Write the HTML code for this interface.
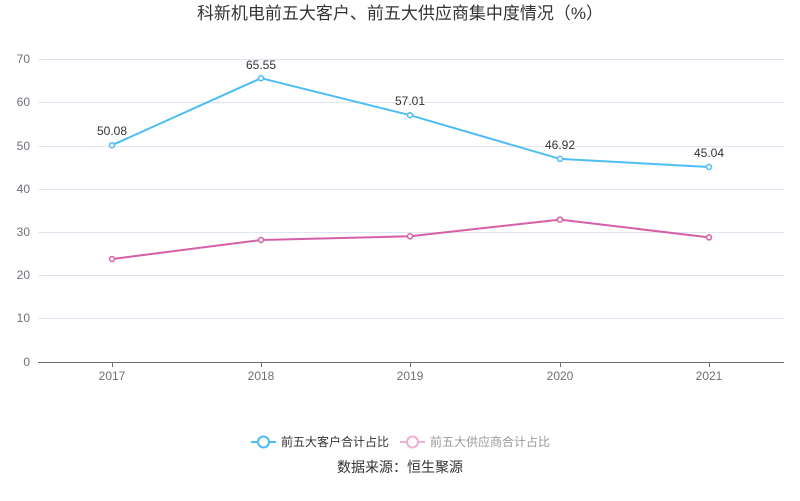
<!DOCTYPE html>
<html><head><meta charset="utf-8"><style>body{margin:0;background:#fff}svg{display:block}text{font-family:"Liberation Sans","Noto Sans CJK SC",sans-serif}</style></head><body>
<svg width="800" height="501" xmlns="http://www.w3.org/2000/svg">
<text x="400" y="19" font-size="17" fill="#333" text-anchor="middle">科新机电前五大客户、前五大供应商集中度情况（%）</text>
<g stroke="#e0e6f1" stroke-width="1">
<line x1="38" x2="784" y1="59.5" y2="59.5"/><line x1="38" x2="784" y1="102.5" y2="102.5"/><line x1="38" x2="784" y1="146.5" y2="146.5"/><line x1="38" x2="784" y1="189.5" y2="189.5"/><line x1="38" x2="784" y1="232.5" y2="232.5"/><line x1="38" x2="784" y1="275.5" y2="275.5"/><line x1="38" x2="784" y1="318.5" y2="318.5"/>
</g>
<line x1="38" x2="784" y1="362.5" y2="362.5" stroke="#6e7079"/>
<g stroke="#6e7079"><line x1="112.5" x2="112.5" y1="362" y2="367"/><line x1="261.5" x2="261.5" y1="362" y2="367"/><line x1="410.5" x2="410.5" y1="362" y2="367"/><line x1="560.5" x2="560.5" y1="362" y2="367"/><line x1="709.5" x2="709.5" y1="362" y2="367"/></g>
<g font-size="12" fill="#6e7079" text-anchor="end">
<text x="30" y="63">70</text><text x="30" y="106">60</text><text x="30" y="150">50</text><text x="30" y="193">40</text><text x="30" y="236">30</text><text x="30" y="279">20</text><text x="30" y="322">10</text><text x="30" y="366">0</text></g>
<g font-size="12" fill="#6e7079" text-anchor="middle">
<text x="112" y="380">2017</text><text x="261" y="380">2018</text><text x="410" y="380">2019</text><text x="560" y="380">2020</text><text x="709" y="380">2021</text></g>
<polyline fill="none" stroke="#4fbdf5" stroke-width="2" points="112,145.2 261,78.2 410,115.2 560,158.9 709,167"/>
<g fill="#fff" stroke="#4fbdf5" stroke-width="1.5"><circle cx="112" cy="145.2" r="2.5"/><circle cx="261" cy="78.2" r="2.5"/><circle cx="410" cy="115.2" r="2.5"/><circle cx="560" cy="158.9" r="2.5"/><circle cx="709" cy="167" r="2.5"/></g>
<polyline fill="none" stroke="#d660a8" stroke-width="2" points="112,259 261,240 410,236.3 560,219.6 709,237.4"/>
<g fill="#fff" stroke="#d660a8" stroke-width="1.5"><circle cx="112" cy="259" r="2.5"/><circle cx="261" cy="240" r="2.5"/><circle cx="410" cy="236.3" r="2.5"/><circle cx="560" cy="219.6" r="2.5"/><circle cx="709" cy="237.4" r="2.5"/></g>
<g font-size="12" fill="#333" text-anchor="middle">
<text x="112" y="135">50.08</text><text x="261" y="69">65.55</text><text x="410" y="105">57.01</text><text x="560" y="149">46.92</text><text x="709" y="157">45.04</text></g>
<line x1="251" x2="276" y1="442" y2="442" stroke="#4fbdf5" stroke-width="2"/><circle cx="263.5" cy="442" r="5.5" fill="#fff" stroke="#4fbdf5" stroke-width="2"/>
<text x="281" y="446" font-size="12" fill="#333">前五大客户合计占比</text>
<line x1="400" x2="425" y1="442" y2="442" stroke="#eeb0d4" stroke-width="2"/><circle cx="412.5" cy="442" r="5.5" fill="#fff" stroke="#eeb0d4" stroke-width="2"/>
<text x="430" y="446" font-size="12" fill="#999">前五大供应商合计占比</text>
<text x="400" y="472" font-size="14" fill="#333" text-anchor="middle">数据来源：恒生聚源</text>
</svg>
</body></html>
